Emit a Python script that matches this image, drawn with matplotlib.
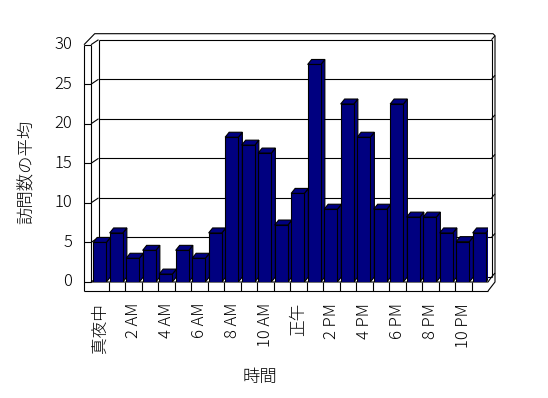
import matplotlib
matplotlib.use('Agg')
import matplotlib.pyplot as plt

plt.rcParams['font.family'] = ['Noto Sans CJK JP', 'DejaVu Sans']
plt.rcParams['font.weight'] = 'light'

# data
hours = ['真夜中', '', '2 AM', '', '4 AM', '', '6 AM', '', '8 AM', '', '10 AM', '',
         '正午', '', '2 PM', '', '4 PM', '', '6 PM', '', '8 PM', '', '10 PM', '']
visits = [5, 6.2, 3, 4, 1, 4, 3, 6.2, 18.3, 17.3, 16.3, 7.2,
          11.2, 27.5, 9.2, 22.5, 18.3, 9.2, 22.5, 8.2, 8.2, 6.2, 5.1, 6.2]
yticks = [0, 5, 10, 15, 20, 25, 30]

W, H = 548, 398
fig = plt.figure(figsize=(W / 100, H / 100), dpi=100)
# front face of the plot: categories 92..488 px, values 0 at 282 px, 30 at 44.7 px
ax = fig.add_axes([92 / W, 1 - 282 / H, 396 / W, (282 - 44.7) / H])
ax.set_xlim(-0.5, 23.5)
ax.set_ylim(0, 30)
ax.axis('off')

px = 1 / 16.5      # one pixel in category units
py = 1 / 7.91      # one pixel in value units
lw = 0.8
kw = dict(color='black', lw=lw, clip_on=False, solid_capstyle='butt')

xo = -0.5 - 8 * px     # outer front edge of left wall
xi = -0.5 - 1 * px     # inner front edge of left wall
xb = -0.5 + 6.5 * px   # back wall left
xr_in = 23.5 + 3.5 * px
xr_out = 23.5 + 7 * px
back = 5 * py
floor = -9 * py
top = 30 + 11 * py

# walls and gridlines
for v in yticks:
    ax.plot([xo, xi], [v, v], zorder=1, **kw)
    ax.plot([xi, xb], [v, v + back], zorder=1, **kw)
    ax.plot([xb, xr_in], [v + back, v + back], zorder=1, **kw)
    ax.plot([xr_in, xr_out], [v + back, v + back + 4 * py], zorder=1, **kw)
    ax.text(xo - 12 * px, v, str(v), ha='right', va='center', fontsize=12)

ax.plot([xo, xo], [floor, 30], zorder=1, **kw)
ax.plot([xi, xi], [0, 30], zorder=1, **kw)
ax.plot([xb, xb], [back, 30 + back], zorder=1, **kw)
ax.plot([xr_in, xr_in], [back, 30 + back], zorder=1, **kw)
ax.plot([xo, -0.5 + 2.7 * px, xr_out - 2 * px, xr_out, xr_out, 23.5],
        [30, top, top, top - 2 * py, 0, floor], zorder=1, **kw)

# floor
ax.plot([xo, 23.5], [floor, floor], zorder=1, **kw)
ax.plot([xi, 23.5, xr_in], [0, 0, back], zorder=1, **kw)
for k in range(1, 24):
    ax.plot([k - 0.5, k - 0.5], [floor, 0], zorder=1, **kw)

# bars
xs = [i - 0.03 for i in range(len(visits))]
bw = 0.8
dx, dy = 4 * px, 5 * py
ax.bar(xs, visits, width=bw, color='#000080', edgecolor='black',
       linewidth=lw, zorder=3)
for x, v in zip(xs, visits):
    l, r = x - bw / 2, x + bw / 2
    ax.fill([r, r + dx, r + dx, r], [0, dy, v + dy, v], facecolor='#000080',
            edgecolor='black', lw=lw, zorder=2.5)
    ax.fill([l, r, r + dx, l + dx], [v, v, v + dy, v + dy], facecolor='#000080',
            edgecolor='black', lw=lw, zorder=2.5)

for i, lab in enumerate(hours):
    if lab:
        ax.text(i, -21 * py, lab, rotation=90, ha='center', va='top', fontsize=12)

fig.text(260 / W, 1 - 377 / H, '時間', ha='center', va='center', fontsize=12.5)
fig.text(27 / W, 1 - 172 / H, '訪問数の平均', rotation=90, ha='center',
         va='center', fontsize=12.5)

fig.savefig('out.png', dpi=100)
